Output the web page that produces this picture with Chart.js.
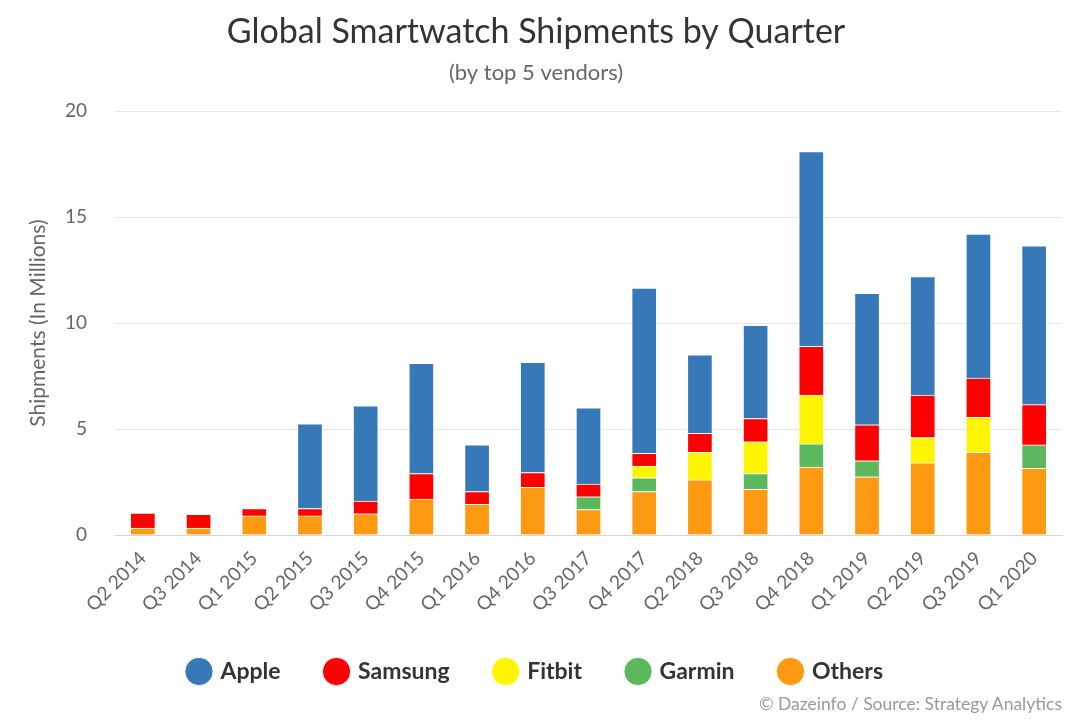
<!DOCTYPE html>
<html>
<head>
<meta charset="utf-8">
<script src="https://cdn.jsdelivr.net/npm/chart.js@4.4.1/dist/chart.umd.min.js"></script>
<style>
  html, body { margin: 0; padding: 0; background: #fff; }
  #wrap { position: relative; width: 1080px; height: 720px; }
  #credit {
    position: absolute; right: 18px; top: 693px;
    font: 17.5px Lato, sans-serif; color: #999;
  }
</style>
</head>
<body>
<div id="wrap">
  <canvas id="myChart" width="1080" height="720"></canvas>
  <div id="credit">© Dazeinfo / Source: Strategy Analytics</div>
</div>
<script>
// ------------------------------------------------------------------
// DATA (millions of units)
const quarters = ['Q2 2014', 'Q3 2014', 'Q1 2015', 'Q2 2015', 'Q3 2015', 'Q4 2015',
  'Q1 2016', 'Q4 2016', 'Q3 2017', 'Q4 2017', 'Q2 2018', 'Q3 2018', 'Q4 2018',
  'Q1 2019', 'Q2 2019', 'Q3 2019', 'Q1 2020'];

const apple   = [0, 0, 0, 4.0, 4.5, 5.2, 2.2, 5.2, 3.6, 7.8, 3.7, 4.4, 9.2, 6.2, 5.6, 6.8, 7.5];
const samsung = [0.7, 0.65, 0.35, 0.35, 0.6, 1.2, 0.6, 0.7, 0.6, 0.6, 0.9, 1.1, 2.3, 1.7, 2.0, 1.85, 1.9];
const fitbit  = [0, 0, 0, 0, 0, 0, 0, 0, 0, 0.55, 1.3, 1.5, 2.3, 0, 1.2, 1.65, 0];
const garmin  = [0, 0, 0, 0, 0, 0, 0, 0, 0.6, 0.65, 0, 0.75, 1.1, 0.75, 0, 0, 1.1];
const others  = [0.33, 0.33, 0.9, 0.9, 1.0, 1.7, 1.45, 2.25, 1.2, 2.05, 2.6, 2.15, 3.2, 2.75, 3.4, 3.9, 3.15];

const yTicks = [0, 5, 10, 15, 20];

// ------------------------------------------------------------------
// CHART
const FONT = 'Lato, "Open Sans", sans-serif';
const ctx = document.getElementById('myChart');

function makeSet(label, data, color) {
  return {
    label: label,
    data: data,
    backgroundColor: color,
    borderColor: '#ffffff',
    borderWidth: 1,
    barThickness: 25,
    stack: 'all',
  };
}

const myChart = new Chart(ctx, {
  type: 'bar',
  data: {
    labels: quarters,
    // bottom of the stack first
    datasets: [
      makeSet('Others', others, '#fd9a12'),
      makeSet('Garmin', garmin, '#5cb85c'),
      makeSet('Fitbit', fitbit, '#fff500'),
      makeSet('Samsung', samsung, '#fe0000'),
      makeSet('Apple', apple, '#3778b8'),
    ],
  },
  options: {
    responsive: false,
    animation: false,
    layout: { padding: { left: 10, right: 18, top: 0, bottom: 27 } },
    plugins: {
      title: {
        display: true,
        text: 'Global Smartwatch Shipments by Quarter',
        color: '#333333',
        font: { family: FONT, size: 34, weight: 'normal' },
        padding: { top: 12, bottom: 7 },
      },
      subtitle: {
        display: true,
        text: '(by top 5 vendors)',
        color: '#666666',
        font: { family: FONT, size: 22 },
        padding: { top: 0, bottom: 25 },
      },
      legend: {
        position: 'bottom',
        reverse: true,
        labels: {
          usePointStyle: true,
          pointStyle: 'circle',
          boxWidth: 20,
          boxHeight: 20,
          padding: 46,
          color: '#333333',
          font: { family: FONT, size: 23, weight: 'bold' },
        },
      },
      tooltip: { enabled: false },
    },
    scales: {
      x: {
        stacked: true,
        grid: { display: false },
        border: { color: '#ccd6eb' },
        ticks: {
          color: '#666666',
          font: { family: FONT, size: 19 },
          minRotation: 45,
          maxRotation: 45,
          padding: 4,
        },
        afterFit: (scale) => { scale.height = 79; },
      },
      y: {
        stacked: true,
        min: 0,
        max: 20,
        afterBuildTicks: (scale) => { scale.ticks = yTicks.map(v => ({ value: v })); },
        grid: { color: '#e6e6e6', drawTicks: false },
        border: { display: false },
        ticks: {
          color: '#666666',
          font: { family: FONT, size: 19 },
          padding: 28,
        },
        title: {
          display: true,
          text: 'Shipments (In Millions)',
          color: '#666666',
          font: { family: FONT, size: 21 },
          padding: { top: 16, bottom: 0 },
        },
        afterFit: (scale) => { scale.width = 105; },
      },
    },
  },
});
</script>
</body>
</html>
